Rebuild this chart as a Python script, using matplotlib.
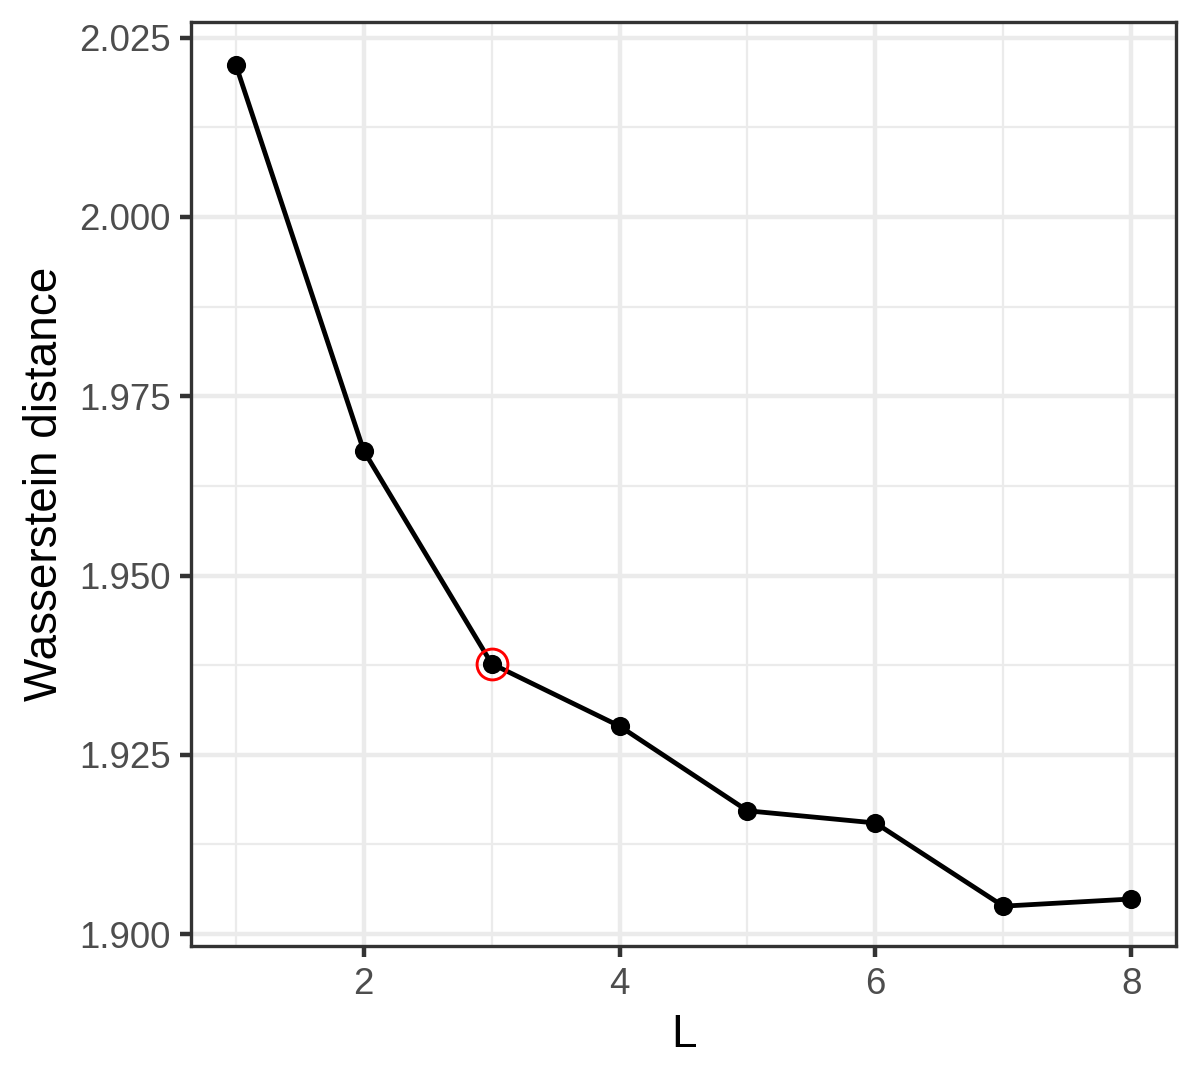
import matplotlib
matplotlib.use("Agg")
import matplotlib.pyplot as plt
from matplotlib.ticker import MultipleLocator

plt.rcParams['font.family'] = ['Liberation Sans', 'DejaVu Sans']

# data
L_values = [1, 2, 3, 4, 5, 6, 7, 8]
wasserstein = [2.0212, 1.9674, 1.9377, 1.9290, 1.9172, 1.9155, 1.9039, 1.9049]
chosen_L = 3
y_ticks = [1.900, 1.925, 1.950, 1.975, 2.000, 2.025]
x_ticks = [2, 4, 6, 8]

fig = plt.figure(figsize=(4, 3.6), dpi=300)
ax = fig.add_axes([0.1592, 0.1241, 0.8208, 0.8555])

grid_col = "#EBEBEB"
lw = 1.07

ax.plot(L_values, wasserstein, color="black", linewidth=1.15, zorder=3)
ax.plot(L_values, wasserstein, "o", color="black", markersize=4.6,
        markeredgewidth=0, zorder=4)
idx = L_values.index(chosen_L)
ax.plot([chosen_L], [wasserstein[idx]], "o", markerfacecolor="none",
        markeredgecolor="#FF0000", markersize=7.4, markeredgewidth=0.7, zorder=5)

ax.set_xlim(0.65, 8.35)
ax.set_ylim(1.89835, 2.02717)
ax.set_xticks(x_ticks)
ax.set_yticks(y_ticks)
ax.set_yticklabels([f"{v:.3f}" for v in y_ticks])
ax.xaxis.set_minor_locator(MultipleLocator(1))
ax.yaxis.set_minor_locator(MultipleLocator(0.0125))

# ggplot theme_bw look
ax.grid(which="major", color=grid_col, linewidth=lw, zorder=0)
ax.grid(which="minor", color=grid_col, linewidth=lw / 2, zorder=0)
ax.set_axisbelow(True)
for sp in ax.spines.values():
    sp.set_color("#333333")
    sp.set_linewidth(lw * 0.75)
ax.tick_params(which="major", length=2.75, width=lw, color="#333333",
               labelsize=8.8, labelcolor="#4D4D4D", pad=2.2)
ax.tick_params(which="minor", length=0)

ax.set_xlabel("L", fontsize=11, color="black", labelpad=2.75)
ax.set_ylabel("Wasserstein distance", fontsize=11, color="black", labelpad=2.75)

fig.savefig("out.png", dpi=300, facecolor="white")
